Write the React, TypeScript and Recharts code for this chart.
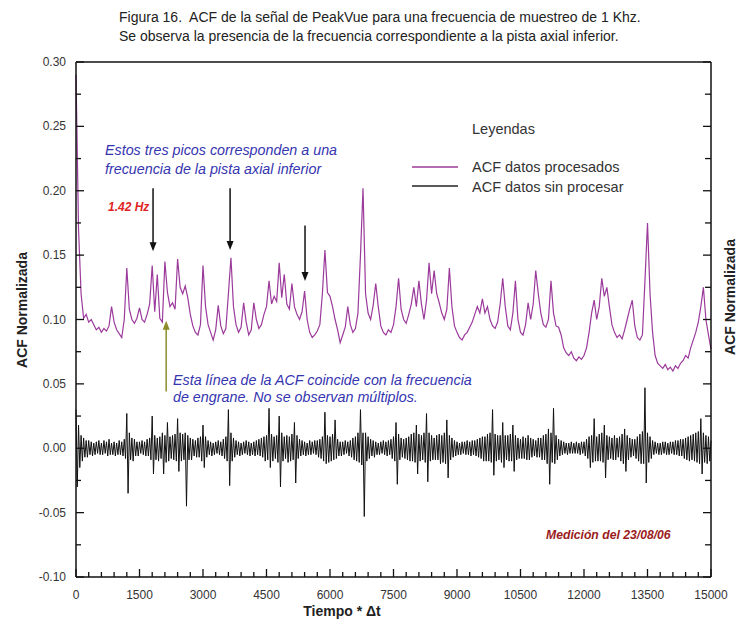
import React from 'react';
import { LineChart, Line, XAxis, YAxis, ReferenceLine } from 'recharts';

// paso de muestreo (unidades de Tiempo * Δt) de cada serie
const PROC_STEP = 60;
const RAW_STEP = 30;

// ACF datos procesados (PeakVue)
const procV = [
  0.290, 0.170, 0.120, 0.101, 0.104, 0.098, 0.100, 0.096, 0.092, 0.094,
  0.090, 0.093, 0.091, 0.095, 0.110, 0.098, 0.092, 0.089, 0.086, 0.100,
  0.140, 0.108, 0.100, 0.097, 0.101, 0.109, 0.100, 0.098, 0.104, 0.112,
  0.142, 0.106, 0.135, 0.101, 0.098, 0.145, 0.121, 0.110, 0.113, 0.108,
  0.147, 0.125, 0.120, 0.126, 0.117, 0.104, 0.095, 0.090, 0.088, 0.096,
  0.142, 0.110, 0.096, 0.090, 0.084, 0.092, 0.111, 0.095, 0.089, 0.093,
  0.120, 0.148, 0.110, 0.096, 0.090, 0.094, 0.113, 0.098, 0.088, 0.092,
  0.113, 0.100, 0.093, 0.096, 0.104, 0.110, 0.130, 0.112, 0.118, 0.114,
  0.144, 0.117, 0.135, 0.112, 0.108, 0.128, 0.110, 0.104, 0.100, 0.106,
  0.122, 0.100, 0.090, 0.086, 0.088, 0.091, 0.096, 0.120, 0.154, 0.121,
  0.118, 0.110, 0.100, 0.092, 0.082, 0.088, 0.094, 0.110, 0.096, 0.090,
  0.093, 0.105, 0.150, 0.202, 0.120, 0.105, 0.100, 0.111, 0.128, 0.110,
  0.095, 0.090, 0.088, 0.092, 0.090, 0.096, 0.110, 0.132, 0.108, 0.100,
  0.097, 0.104, 0.112, 0.125, 0.110, 0.130, 0.112, 0.100, 0.115, 0.144,
  0.120, 0.138, 0.120, 0.113, 0.105, 0.100, 0.108, 0.140, 0.110, 0.095,
  0.090, 0.086, 0.084, 0.088, 0.090, 0.094, 0.098, 0.104, 0.110, 0.105,
  0.116, 0.105, 0.110, 0.100, 0.095, 0.093, 0.098, 0.112, 0.132, 0.110,
  0.095, 0.092, 0.105, 0.130, 0.100, 0.090, 0.088, 0.096, 0.113, 0.100,
  0.112, 0.138, 0.120, 0.105, 0.096, 0.094, 0.100, 0.130, 0.105, 0.095,
  0.094, 0.088, 0.078, 0.074, 0.072, 0.075, 0.070, 0.068, 0.071, 0.069,
  0.072, 0.078, 0.090, 0.105, 0.115, 0.100, 0.110, 0.132, 0.118, 0.125,
  0.110, 0.096, 0.090, 0.086, 0.088, 0.085, 0.092, 0.100, 0.108, 0.115,
  0.095, 0.086, 0.084, 0.088, 0.130, 0.175, 0.120, 0.090, 0.072, 0.066,
  0.064, 0.062, 0.065, 0.061, 0.063, 0.060, 0.064, 0.062, 0.066, 0.068,
  0.072, 0.070, 0.078, 0.084, 0.090, 0.098, 0.110, 0.125, 0.100, 0.088,
  0.077,
];

// ACF datos sin procesar
const rawV = [
  0.030, -0.030, 0.018, -0.015, 0.010, -0.010, 0.008, -0.007, 0.006, -0.007,
  0.006, -0.005, 0.005, -0.006, 0.004, -0.005, 0.005, -0.004, 0.006, -0.005,
  0.004, -0.005, 0.006, -0.004, 0.005, -0.006, 0.007, -0.005, 0.004, -0.005,
  0.005, -0.006, 0.004, -0.005, 0.006, -0.005, 0.005, -0.006, 0.007, -0.008,
  0.027, -0.035, 0.012, -0.009, 0.008, -0.010, 0.007, -0.006, 0.005, -0.006,
  0.005, -0.004, 0.006, -0.005, 0.005, -0.006, 0.007, -0.006, 0.008, -0.009,
  0.025, -0.020, 0.010, -0.009, 0.008, -0.010, 0.009, -0.008, 0.012, -0.020,
  0.010, -0.011, 0.020, -0.010, 0.009, -0.008, 0.010, -0.009, 0.011, -0.010,
  0.023, -0.018, 0.012, -0.010, 0.011, -0.009, 0.012, -0.045, 0.010, -0.009,
  0.008, -0.009, 0.007, -0.006, 0.006, -0.007, 0.008, -0.007, 0.009, -0.010,
  0.018, -0.015, 0.009, -0.007, 0.006, -0.005, 0.005, -0.006, 0.004, -0.005,
  0.005, -0.004, 0.006, -0.005, 0.005, -0.006, 0.007, -0.008, 0.009, -0.010,
  0.030, -0.029, 0.012, -0.010, 0.008, -0.007, 0.006, -0.005, 0.005, -0.006,
  0.004, -0.005, 0.005, -0.004, 0.006, -0.005, 0.005, -0.006, 0.004, -0.005,
  0.005, -0.006, 0.006, -0.005, 0.007, -0.006, 0.008, -0.007, 0.009, -0.010,
  0.010, -0.009, 0.031, -0.015, 0.011, -0.010, 0.009, -0.008, 0.010, -0.011,
  0.025, -0.030, 0.012, -0.010, 0.009, -0.008, 0.010, -0.011, 0.009, -0.010,
  0.011, -0.009, 0.020, -0.027, 0.010, -0.008, 0.007, -0.006, 0.006, -0.005,
  0.005, -0.006, 0.004, -0.005, 0.006, -0.005, 0.005, -0.004, 0.006, -0.005,
  0.006, -0.007, 0.007, -0.008, 0.009, -0.010, 0.028, -0.012, 0.010, -0.011,
  0.009, -0.010, 0.011, -0.009, 0.022, -0.008, 0.007, -0.006, 0.005, -0.006,
  0.005, -0.005, 0.006, -0.004, 0.005, -0.006, 0.006, -0.007, 0.008, -0.009,
  0.009, -0.010, 0.012, -0.011, 0.030, -0.013, 0.012, -0.053, 0.012, -0.010,
  0.009, -0.008, 0.007, -0.006, 0.006, -0.007, 0.005, -0.005, 0.004, -0.005,
  0.005, -0.004, 0.006, -0.005, 0.005, -0.006, 0.006, -0.005, 0.007, -0.008,
  0.009, -0.010, 0.020, -0.028, 0.011, -0.009, 0.008, -0.007, 0.007, -0.008,
  0.008, -0.009, 0.009, -0.010, 0.011, -0.010, 0.012, -0.011, 0.018, -0.020,
  0.011, -0.010, 0.010, -0.009, 0.012, -0.011, 0.027, -0.026, 0.012, -0.010,
  0.010, -0.009, 0.008, -0.009, 0.010, -0.009, 0.011, -0.012, 0.010, -0.011,
  0.012, -0.012, 0.022, -0.023, 0.010, -0.009, 0.008, -0.007, 0.006, -0.006,
  0.005, -0.005, 0.004, -0.005, 0.005, -0.004, 0.005, -0.005, 0.006, -0.005,
  0.005, -0.006, 0.006, -0.005, 0.006, -0.006, 0.007, -0.007, 0.008, -0.008,
  0.009, -0.010, 0.009, -0.010, 0.011, -0.010, 0.012, -0.011, 0.030, -0.021,
  0.011, -0.010, 0.010, -0.009, 0.010, -0.011, 0.020, -0.015, 0.010, -0.009,
  0.010, -0.010, 0.011, -0.010, 0.018, -0.018, 0.010, -0.009, 0.008, -0.008,
  0.007, -0.008, 0.009, -0.008, 0.008, -0.009, 0.010, -0.009, 0.008, -0.007,
  0.007, -0.006, 0.006, -0.007, 0.008, -0.007, 0.008, -0.009, 0.010, -0.009,
  0.011, -0.012, 0.015, -0.028, 0.012, -0.011, 0.031, -0.012, 0.010, -0.009,
  0.007, -0.006, 0.006, -0.005, 0.005, -0.004, 0.004, -0.005, 0.004, -0.004,
  0.005, -0.004, 0.004, -0.004, 0.005, -0.004, 0.004, -0.005, 0.005, -0.004,
  0.005, -0.006, 0.007, -0.008, 0.009, -0.015, 0.010, -0.011, 0.023, -0.010,
  0.009, -0.010, 0.011, -0.010, 0.012, -0.011, 0.018, -0.023, 0.010, -0.009,
  0.009, -0.008, 0.008, -0.009, 0.010, -0.009, 0.008, -0.007, 0.009, -0.010,
  0.011, -0.012, 0.015, -0.018, 0.010, -0.009, 0.008, -0.007, 0.007, -0.006,
  0.007, -0.008, 0.009, -0.010, 0.011, -0.012, 0.013, -0.012, 0.047, -0.027,
  0.012, -0.011, 0.009, -0.008, 0.006, -0.005, 0.005, -0.004, 0.004, -0.005,
  0.004, -0.005, 0.005, -0.004, 0.005, -0.005, 0.004, -0.005, 0.005, -0.004,
  0.005, -0.005, 0.006, -0.005, 0.006, -0.006, 0.007, -0.006, 0.007, -0.008,
  0.008, -0.009, 0.009, -0.010, 0.010, -0.009, 0.011, -0.010, 0.012, -0.011,
  0.013, -0.012, 0.023, -0.020, 0.012, -0.011, 0.010, -0.012, 0.009, -0.010,
  0.006,
];

const xMajor = [0, 1500, 3000, 4500, 6000, 7500, 9000, 10500, 12000, 13500, 15000];
const yMajor = [-0.1, -0.05, 0, 0.05, 0.1, 0.15, 0.2, 0.25, 0.3];

// flechas de anotación: [t, yInicio, yFin]
const blackArrows = [
  [1820, 0.202, 0.153],
  [3640, 0.202, 0.154],
  [5410, 0.173, 0.13],
];
const olive = [2130, 0.044, 0.099];

const procData = procV.map((v, i) => ({ t: i * PROC_STEP, proc: v }));
const rawData = rawV.map((v, i) => ({ t: i * RAW_STEP, raw: v }));

const xTicks: number[] = [];
for (let i = 0; i <= 50; i++) xTicks.push(i * 300);
const yTicks: number[] = [];
for (let i = 0; i <= 16; i++) yTicks.push(+(-0.1 + i * 0.025).toFixed(3));

const isMajorX = (v: number) => xMajor.includes(v);
const isMajorY = (v: number) => yMajor.some((m) => Math.abs(m - v) < 1e-6);

const FONT = '"Liberation Sans", Arial, sans-serif';
const BLUE = '#3535b0';

const BottomTick = (props: any) => {
  const { x, y, payload } = props;
  const major = isMajorX(payload.value);
  return (
    <g>
      <line x1={x} y1={y} x2={x} y2={y - (major ? 8 : 5)} stroke="#111" strokeWidth={1.3} />
      {major && (
        <text x={x} y={y + 22} textAnchor="middle" fontSize={12} fill="#333" fontFamily={FONT}>
          {payload.value}
        </text>
      )}
    </g>
  );
};

const TopTick = (props: any) => {
  const { x, y, payload } = props;
  const major = isMajorX(payload.value);
  return <line x1={x} y1={y} x2={x} y2={y + (major ? 8 : 5)} stroke="#111" strokeWidth={1.3} />;
};

const LeftTick = (props: any) => {
  const { x, y, payload } = props;
  const major = isMajorY(payload.value);
  return (
    <g>
      <line x1={x} y1={y} x2={x + (major ? 8 : 5)} y2={y} stroke="#111" strokeWidth={1.3} />
      {major && (
        <text x={x - 10} y={y + 4} textAnchor="end" fontSize={12} fill="#333" fontFamily={FONT}>
          {payload.value.toFixed(2)}
        </text>
      )}
    </g>
  );
};

const RightTick = (props: any) => {
  const { x, y, payload } = props;
  const major = isMajorY(payload.value);
  return <line x1={x} y1={y} x2={x - (major ? 8 : 6)} y2={y} stroke="#111" strokeWidth={1.3} />;
};

const Arrow = (color: string, up: boolean) => (props: any) => {
  const { x1, y1, x2, y2 } = props;
  const xs = x1 ?? x2 ?? 0;
  const top = Math.min(y1, y2);
  const bot = Math.max(y1, y2);
  const head = up
    ? `${xs - 3.5},${top + 9} ${xs + 3.5},${top + 9} ${xs},${top}`
    : `${xs - 3.5},${bot - 9} ${xs + 3.5},${bot - 9} ${xs},${bot}`;
  return (
    <g>
      <line x1={xs} y1={up ? top + 6 : top} x2={xs} y2={up ? bot : bot - 6} stroke={color} strokeWidth={1.5} />
      <polygon points={head} fill={color} />
    </g>
  );
};

const App: React.FC = () => {
  return (
    <div style={{ position: 'absolute', left: 0, top: 0, width: 738, height: 619, background: '#fff' }}>
      <LineChart width={738} height={619} margin={{ top: 61, right: 17, bottom: 12, left: 36 }}>
        <XAxis
          dataKey="t"
          type="number"
          domain={[0, 15000]}
          ticks={xTicks}
          interval={0}
          height={30}
          tickSize={0}
          tickMargin={0}
          tickLine={false}
          axisLine={{ stroke: '#111', strokeWidth: 1.5 }}
          tick={<BottomTick />}
        />
        <XAxis
          xAxisId="top"
          orientation="top"
          dataKey="t"
          type="number"
          domain={[0, 15000]}
          ticks={xTicks}
          interval={0}
          height={1}
          tickSize={0}
          tickMargin={0}
          tickLine={false}
          axisLine={{ stroke: '#111', strokeWidth: 1.5 }}
          tick={<TopTick />}
        />
        <YAxis
          type="number"
          domain={[-0.1, 0.3]}
          ticks={yTicks}
          interval={0}
          width={40}
          tickSize={0}
          tickMargin={0}
          tickLine={false}
          allowDataOverflow
          axisLine={{ stroke: '#111', strokeWidth: 1.5 }}
          tick={<LeftTick />}
        />
        <YAxis
          yAxisId="right"
          orientation="right"
          type="number"
          domain={[-0.1, 0.3]}
          ticks={yTicks}
          interval={0}
          width={10}
          tickSize={0}
          tickMargin={0}
          tickLine={false}
          allowDataOverflow
          axisLine={{ stroke: '#111', strokeWidth: 1.5 }}
          tick={<RightTick />}
        />
        <Line
          data={rawData}
          type="linear"
          dataKey="raw"
          stroke="#111"
          strokeWidth={1}
          dot={false}
          isAnimationActive={false}
        />
        <Line
          data={procData}
          type="linear"
          dataKey="proc"
          stroke="#9b3a9b"
          strokeWidth={1.2}
          dot={false}
          isAnimationActive={false}
        />
        {blackArrows.map(([t, a, b], i) => (
          <ReferenceLine
            key={`arr-${i}`}
            segment={[{ x: t, y: a }, { x: t, y: b }]}
            stroke="#111"
            shape={Arrow('#111', false)}
          />
        ))}
        <ReferenceLine
          segment={[{ x: olive[0], y: olive[1] }, { x: olive[0], y: olive[2] }]}
          stroke="#8c8c2a"
          shape={Arrow('#8c8c2a', true)}
        />
      </LineChart>

      <svg
        width={738}
        height={619}
        style={{ position: 'absolute', left: 0, top: 0, pointerEvents: 'none' }}
        fontFamily={FONT}
      >
        <text x={119} y={22} fontSize={14} fill="#222">
          {'Figura 16.\u00a0 ACF de la señal de PeakVue para una frecuencia de muestreo de 1 Khz.'}
        </text>
        <text x={119} y={41} fontSize={14} fill="#222">
          Se observa la presencia de la frecuencia correspondiente a la pista axial inferior.
        </text>

        <text x={472} y={134} fontSize={14.5} fill="#333">Leyendas</text>
        <line x1={412} y1={167} x2={458} y2={167} stroke="#9b3a9b" strokeWidth={1.5} />
        <text x={472} y={172} fontSize={14.5} fill="#333">ACF datos procesados</text>
        <line x1={412} y1={186} x2={458} y2={186} stroke="#222" strokeWidth={1.5} />
        <text x={472} y={192} fontSize={14.5} fill="#333">ACF datos sin procesar</text>

        <text x={105} y={155} fontSize={14.3} fontStyle="italic" fill={BLUE}>
          Estos tres picos corresponden a una
        </text>
        <text x={105} y={174} fontSize={14.3} fontStyle="italic" fill={BLUE}>
          frecuencia de la pista axial inferior
        </text>
        <text x={108} y={211} fontSize={12} fontStyle="italic" fontWeight="bold" fill="#e02424">
          1.42 Hz
        </text>

        <text x={173} y={385} fontSize={14.3} fontStyle="italic" fill={BLUE}>
          Esta línea de la ACF coincide con la frecuencia
        </text>
        <text x={173} y={402} fontSize={14.3} fontStyle="italic" fill={BLUE}>
          de engrane. No se observan múltiplos.
        </text>

        <text x={546} y={539} fontSize={12.2} fontStyle="italic" fontWeight="bold" fill="#9b1c1c">
          Medición del 23/08/06
        </text>

        <text x={342} y={616} fontSize={14} fontWeight="bold" fill="#222" textAnchor="middle">
          Tiempo * Δt
        </text>
        <text
          transform="translate(27,310) rotate(-90)"
          fontSize={14}
          fontWeight="bold"
          fill="#222"
          textAnchor="middle"
        >
          ACF Normalizada
        </text>
        <text
          transform="translate(735,297) rotate(-90)"
          fontSize={14}
          fontWeight="bold"
          fill="#222"
          textAnchor="middle"
        >
          ACF Normalizada
        </text>
      </svg>
    </div>
  );
};

export default App;
